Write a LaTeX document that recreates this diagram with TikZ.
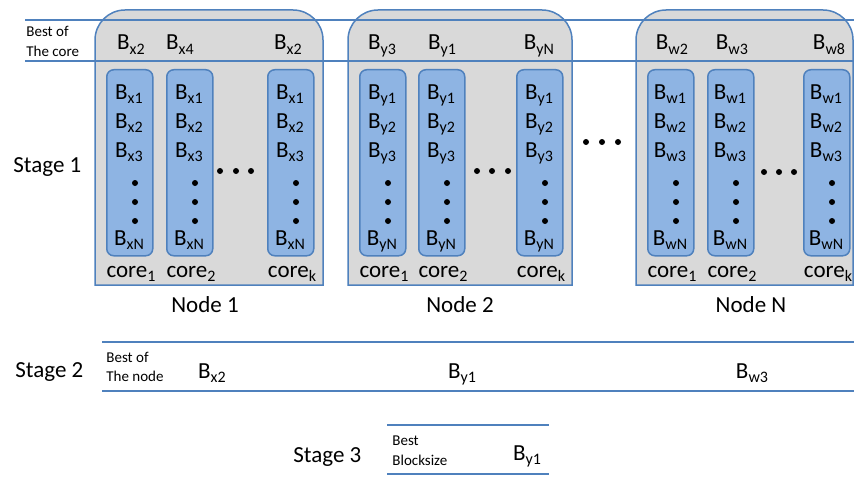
\documentclass[tikz,border=0pt]{standalone}
\usepackage{fontspec}
\setmainfont{Carlito}
\usetikzlibrary{positioning}
\definecolor{lineblue}{RGB}{79,129,189}
\definecolor{corefill}{RGB}{142,180,227}
\definecolor{nodegray}{RGB}{217,217,217}

\newcommand{\bsub}[2]{B\raisebox{-0.45ex}{\fontsize{8}{9}\selectfont #1#2}}
% one core column: left edge, name, letter, core index
\newcommand{\corecol}[4]{%
  \begin{scope}[shift={(#1,0)}]
    \node[corebox,anchor=north west] (#2) at (0,69) {};
    \node[entry] at (23,99) {\bsub{#3}{1}};
    \node[entry] at (23,128) {\bsub{#3}{2}};
    \node[entry] at (23,157) {\bsub{#3}{3}};
    \fill (29,183) circle (3) (29,202) circle (3) (29,221) circle (3);
    \node[entry] at (23,245) {\bsub{#3}{N}};
    \node[entry] at (25,277) {core\raisebox{-0.45ex}{\fontsize{8}{9}\selectfont #4}};
  \end{scope}}
\newcommand{\nodeshape}[2]{%
  \draw[nodebox] (#1,285) -- (#1,40) arc[start angle=180,end angle=270,radius=30]
    -- (#2-30,10) arc[start angle=270,end angle=360,radius=30] -- (#2,285) -- cycle;}

\begin{document}
\begin{tikzpicture}[x=0.5pt,y=-0.5pt,font=\fontsize{11.5}{13}\selectfont,
  entry/.style={anchor=base,inner sep=0pt},
  smalltext/.style={anchor=base west,inner sep=0pt,font=\fontsize{7.5}{9}\selectfont},
  corebox/.style={draw=lineblue,fill=corefill,line width=0.75pt,rounded corners=3.5pt,
    minimum width=23pt,minimum height=93pt,inner sep=0pt},
  nodebox/.style={draw=lineblue,fill=nodegray,line width=0.75pt},
  stageline/.style={draw=lineblue,line width=1.3pt}]
\useasboundingbox (0,0) rectangle (854,476);

% stage 1: the nodes
\nodeshape{95}{323}
\nodeshape{348}{572}
\nodeshape{636}{853}
\draw[stageline] (25,20) -- (854,20);
\draw[stageline] (25,61) -- (854,61);
\node[smalltext] (bestcore) at (26,37) {Best of};
\node[smalltext] (thecore) at (26,57) {The core};
\node[entry,anchor=base west] (stage1) at (13,172) {Stage 1};

\node[entry] (h1a) at (131,50) {\bsub{x}{2}};
\node[entry] (h1b) at (180,50) {\bsub{x}{4}};
\node[entry] (h1c) at (288,50) {\bsub{x}{2}};
\node[entry] (h2a) at (382,50) {\bsub{y}{3}};
\node[entry] (h2b) at (442,50) {\bsub{y}{1}};
\node[entry] (h2c) at (539,50) {\bsub{y}{N}};
\node[entry] (h3a) at (672,50) {\bsub{w}{2}};
\node[entry] (h3b) at (732,50) {\bsub{w}{3}};
\node[entry] (h3c) at (829,50) {\bsub{w}{8}};

\corecol{106}{n1c1}{x}{1}
\corecol{166}{n1c2}{x}{2}
\corecol{267}{n1ck}{x}{k}
\corecol{359}{n2c1}{y}{1}
\corecol{418}{n2c2}{y}{2}
\corecol{516}{n2ck}{y}{k}
\corecol{647}{n3c1}{w}{1}
\corecol{707}{n3c2}{w}{2}
\corecol{803}{n3ck}{w}{k}

\fill (220,171) circle (3) (236,171) circle (3) (251,171) circle (3);
\fill (477,171) circle (3) (492,171) circle (3) (508,171) circle (3);
\fill (764,172) circle (3) (779,172) circle (3) (794,172) circle (3);
\fill (586,142) circle (3) (602,142) circle (3) (618,142) circle (3);

\node[entry] (node1) at (205,312) {Node 1};
\node[entry] (node2) at (460,312) {Node 2};
\node[entry] (nodeN) at (751,312) {Node N};

% stage 2
\draw[stageline] (102,342) -- (854,342);
\draw[stageline] (102,391) -- (854,391);
\node[entry,anchor=base west] (stage2) at (15,377) {Stage 2};
\node[smalltext] (bestnode) at (106,362) {Best of};
\node[smalltext] (thenode) at (106,381) {The node};
\node[entry] (s2a) at (212,378) {\bsub{x}{2}};
\node[entry] (s2b) at (462,378) {\bsub{y}{1}};
\node[entry] (s2c) at (752,378) {\bsub{w}{3}};

% stage 3
\draw[stageline] (387,425) -- (549,425);
\draw[stageline] (387,474) -- (549,474);
\node[entry,anchor=base west] (stage3) at (293,462) {Stage 3};
\node[smalltext] (best) at (392,445) {Best};
\node[smalltext] (blocksize) at (392,465) {Blocksize};
\node[entry] (s3) at (527,460) {\bsub{y}{1}};
\end{tikzpicture}
\end{document}
